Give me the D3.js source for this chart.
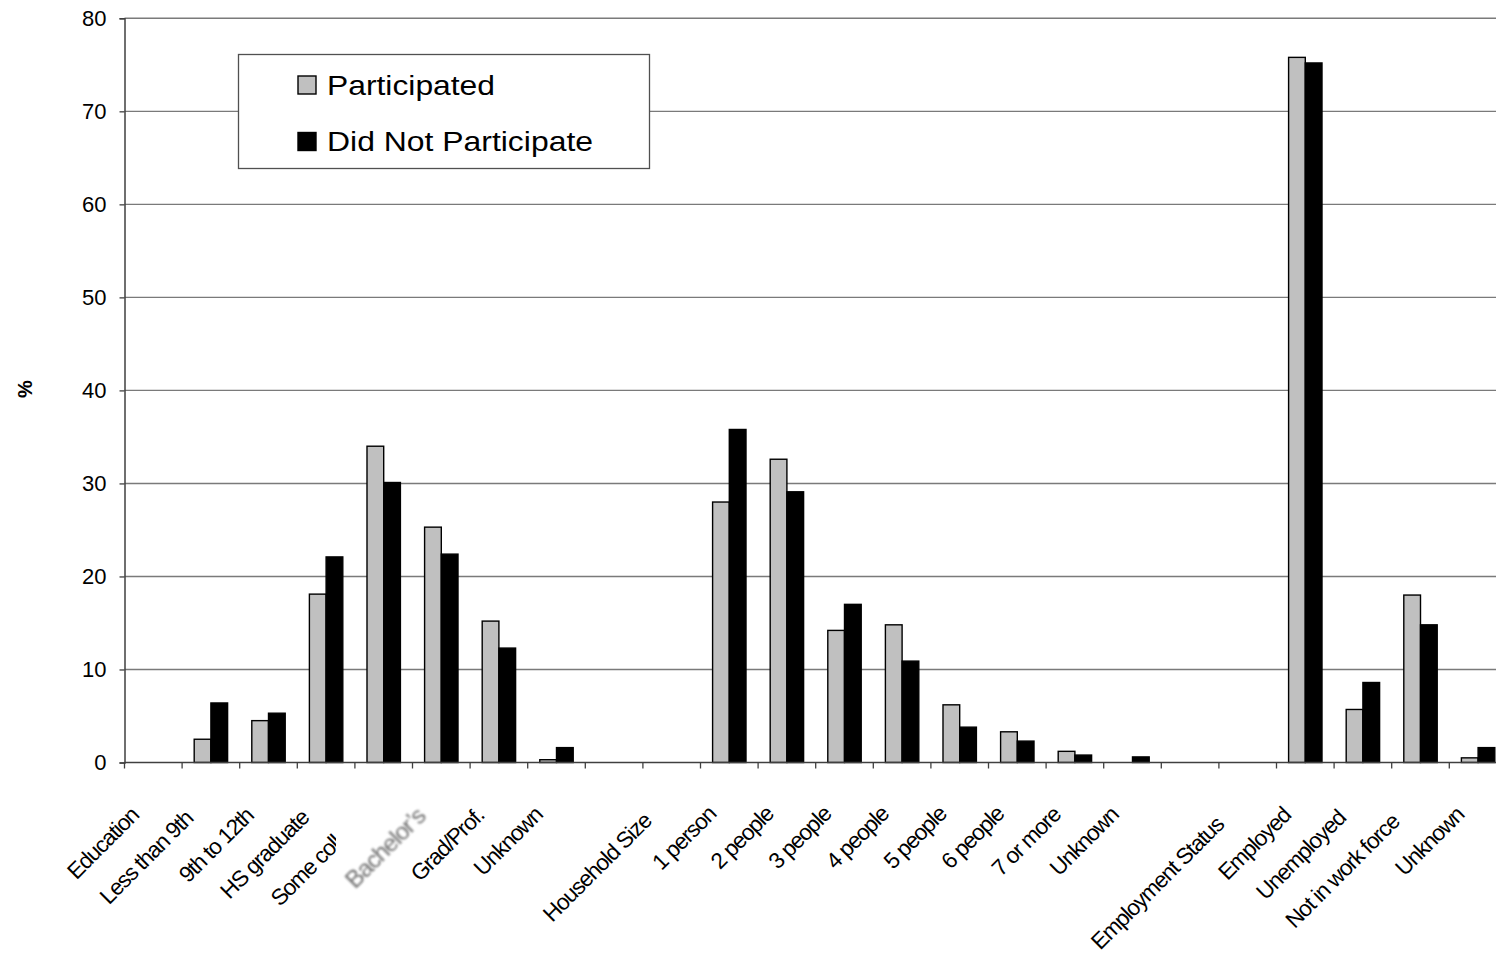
<!DOCTYPE html>
<html>
<head>
<meta charset="utf-8">
<script src="https://cdn.jsdelivr.net/npm/d3@7"></script>
<style>
  html, body { margin: 0; padding: 0; background: #fff; }
  svg { display: block; font-family: "Liberation Sans", Arial, sans-serif; }
</style>
</head>
<body>
<svg id="chart" width="1496" height="957"></svg>
<script>
// Category labels along the x axis (blank entries separate the three groups)
const categories = [
  "Education", "Less than 9th", "9th to 12th", "HS graduate", "Some college",
  "Bachelor\u2019s", "Grad/Prof.", "Unknown", "",
  "Household Size", "1 person", "2 people", "3 people", "4 people",
  "5 people", "6 people", "7 or more", "Unknown", "",
  "Employment Status", "Employed", "Unemployed", "Not in work force", "Unknown"
];

// Percent of respondents in each category
const participated = [
  null, 2.5, 4.5, 18.1, 34.0, 25.3, 15.2, 0.3, null,
  null, 28.0, 32.6, 14.2, 14.8, 6.2, 3.3, 1.2, 0, null,
  null, 75.8, 5.7, 18.0, 0.5
];
const didNotParticipate = [
  null, 6.4, 5.3, 22.1, 30.1, 22.4, 12.3, 1.6, null,
  null, 35.8, 29.1, 17.0, 10.9, 3.8, 2.3, 0.8, 0.6, null,
  null, 75.2, 8.6, 14.8, 1.6
];

const seriesNames = ["Participated", "Did Not Participate"];
const yTicks = [0, 10, 20, 30, 40, 50, 60, 70, 80];

const svg = d3.select("#chart");
const plotLeft = 124.5, plotTop = 18.3, plotBottom = 762.5;
const step = 57.6;
const plotRight = plotLeft + step * categories.length;

const x = d3.scaleBand()
  .domain(d3.range(categories.length))
  .range([plotLeft, plotRight])
  .paddingInner(0)
  .paddingOuter(0);

const y = d3.scaleLinear().domain([0, 80]).range([plotBottom, plotTop]);

// Horizontal gridlines
svg.append("g")
  .selectAll("line")
  .data(yTicks.filter(t => t > 0))
  .join("line")
  .attr("x1", plotLeft).attr("x2", plotRight)
  .attr("y1", d => y(d)).attr("y2", d => y(d))
  .attr("stroke", "#7a7a7a")
  .attr("stroke-width", 1.4);

// Bars
const series = [participated, didNotParticipate];
const fills = ["#c0c0c0", "#000000"];
const barWidth = x.bandwidth() * 0.29;
series.forEach((vals, si) => {
  svg.append("g")
    .selectAll("rect")
    .data(vals.map((v, i) => ({ v, i })).filter(d => d.v != null && d.v > 0))
    .join("rect")
    .attr("x", d => x(d.i) + x.bandwidth() / 2 - barWidth + si * barWidth)
    .attr("y", d => y(d.v))
    .attr("width", barWidth)
    .attr("height", d => y(0) - y(d.v))
    .attr("fill", fills[si])
    .attr("stroke", "#000")
    .attr("stroke-width", 1.4);
});

// Y axis
const yAxis = d3.axisLeft(y).tickValues(yTicks).tickSize(5).tickPadding(13);
const yG = svg.append("g").attr("transform", `translate(${plotLeft},0)`).call(yAxis);
yG.select(".domain").attr("stroke", "#404040").attr("stroke-width", 1.5);
yG.selectAll(".tick line").attr("stroke", "#404040").attr("stroke-width", 1.3);
yG.selectAll(".tick text")
  .attr("font-size", 22)
  .attr("fill", "#000")
  .attr("font-family", "'Liberation Sans', Arial, sans-serif");

// X axis baseline and boundary ticks
svg.append("line")
  .attr("x1", plotLeft).attr("x2", plotRight)
  .attr("y1", plotBottom).attr("y2", plotBottom)
  .attr("stroke", "#404040").attr("stroke-width", 1.5);
svg.append("g")
  .selectAll("line")
  .data(d3.range(categories.length + 1))
  .join("line")
  .attr("x1", d => plotLeft + d * step).attr("x2", d => plotLeft + d * step)
  .attr("y1", plotBottom).attr("y2", plotBottom + 6)
  .attr("stroke", "#404040").attr("stroke-width", 1.3);

// Rotated category labels; longer labels sit a little further down the diagonal
const labelSize = 22.5, labelSpacing = -1.1;
function addLabel(parent, i, fill, size) {
  const t = parent.append("text")
    .attr("text-anchor", "end")
    .attr("font-size", size || labelSize)
    .attr("letter-spacing", labelSpacing)
    .attr("fill", fill)
    .text(categories[i]);
  const len = t.node().getComputedTextLength();
  const shift = Math.max(0, 0.11 * (len - 80));
  const cx = x(i) + x.bandwidth() / 2 - 12 - shift;
  const cy = plotBottom + 53 + shift;
  t.attr("transform", `translate(${cx},${cy}) rotate(-45)`);
  return t;
}

const labelG = svg.append("g");
// "Some college" is drawn first so the patch behind Bachelor's clips its end
addLabel(labelG, 4, "#000");

const defs = svg.append("defs");
defs.append("filter").attr("id", "soft")
  .attr("x", "-20%").attr("y", "-20%").attr("width", "140%").attr("height", "140%")
  .append("feGaussianBlur").attr("stdDeviation", 0.9);
labelG.append("rect")
  .attr("x", 336).attr("y", 787)
  .attr("width", 70).attr("height", 98)
  .attr("fill", "#fff");
addLabel(labelG, 5, "#6e6e6e", 24).attr("filter", "url(#soft)");

categories.forEach((c, i) => {
  if (!c || i === 4 || i === 5) return;
  addLabel(labelG, i, "#000");
});

// Y axis title
svg.append("text")
  .attr("transform", `translate(32,389) rotate(-90)`)
  .attr("text-anchor", "middle")
  .attr("font-size", 20)
  .attr("font-weight", "bold")
  .text("%");

// Legend
const lg = svg.append("g");
lg.append("rect")
  .attr("x", 238.5).attr("y", 54.5)
  .attr("width", 411).attr("height", 114)
  .attr("fill", "#fff")
  .attr("stroke", "#505050").attr("stroke-width", 1.3);
const legendRows = [
  { name: seriesNames[0], fill: fills[0], y: 76, len: 168 },
  { name: seriesNames[1], fill: fills[1], y: 132.5, len: 266 }
];
legendRows.forEach(r => {
  lg.append("rect")
    .attr("x", 298).attr("y", r.y)
    .attr("width", 18).attr("height", 18)
    .attr("fill", r.fill)
    .attr("stroke", "#000").attr("stroke-width", 1.4);
  lg.append("text")
    .attr("x", 327).attr("y", r.y + 18.5)
    .attr("font-size", 27.5)
    .attr("textLength", r.len)
    .attr("lengthAdjust", "spacingAndGlyphs")
    .text(r.name);
});
</script>
</body>
</html>
